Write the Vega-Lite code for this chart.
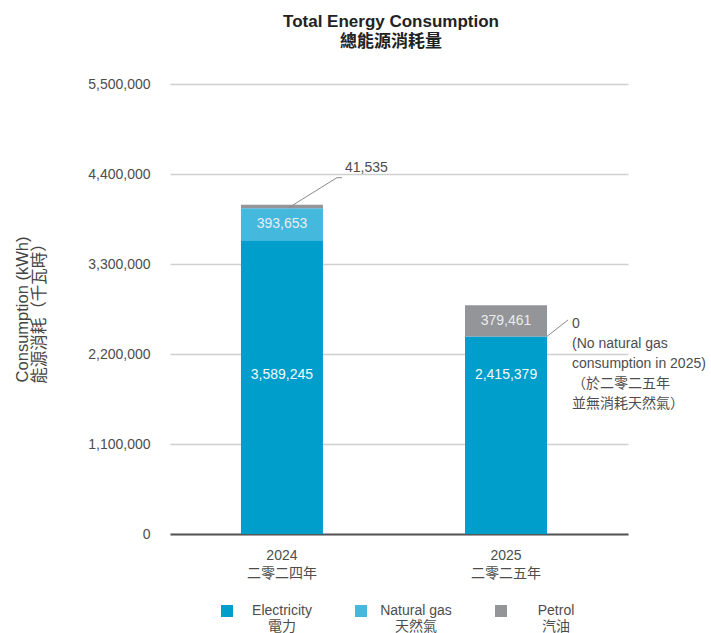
{
  "$schema": "https://vega.github.io/schema/vega-lite/v6.json",
  "width": 458,
  "height": 450,
  "autosize": {"type": "none"},
  "padding": {"left": 170, "top": 84, "right": 83, "bottom": 99},
  "background": "white",
  "config": {
    "font": "'Liberation Sans', 'Noto Sans CJK TC'",
    "view": {"stroke": null},
    "style": {"guide-label": {"lineHeight": 16}}
  },
  "title": {
    "text": ["Total Energy Consumption", "總能源消耗量"],
    "fontSize": 17,
    "lineHeight": 20,
    "fontWeight": "bold",
    "color": "#222222",
    "anchor": "middle",
    "dx": -8,
    "offset": 26
  },
  "datasets": {
    "energy": [
      {"year": "2024", "series": "Electricity", "value": 3589245},
      {"year": "2024", "series": "Natural gas", "value": 393653},
      {"year": "2024", "series": "Petrol", "value": 41535},
      {"year": "2025", "series": "Electricity", "value": 2415379},
      {"year": "2025", "series": "Natural gas", "value": 0},
      {"year": "2025", "series": "Petrol", "value": 379461}
    ]
  },
  "layer": [
    {
      "data": {"name": "energy"},
      "transform": [
        {"stack": "value", "groupby": ["year"], "sort": [{"field": "series", "order": "ascending"}], "as": ["v0", "v1"]}
      ],
      "mark": {"type": "bar"},
      "encoding": {
        "x": {
          "field": "year",
          "type": "nominal",
          "scale": {"paddingInner": 0.634, "paddingOuter": 0.339, "align": 0.467},
          "axis": {
            "title": null,
            "labelAngle": 0,
            "ticks": false,
            "grid": false,
            "domainColor": "#555555",
            "domainWidth": 2,
            "labelPadding": 14,
            "labelFontSize": 14,
            "labelColor": "#4d4d4d",
            "labelLineHeight": 18,
            "labelExpr": "datum.label == '2024' ? ['2024', '二零二四年'] : ['2025', '二零二五年']"
          }
        },
        "y": {
          "field": "v0",
          "type": "quantitative",
          "scale": {"domain": [0, 5500000], "nice": false},
          "axis": {
            "values": [0, 1100000, 2200000, 3300000, 4400000, 5500000],
            "labelExpr": "format(datum.value, ',')",
            "title": ["Consumption (kWh)", "能源消耗（千瓦時）"],
            "domain": false,
            "ticks": false,
            "labelPadding": 20,
            "labelFontSize": 14,
            "labelColor": "#4d4d4d",
            "gridColor": "#d0d0d0",
            "gridWidth": 1.5,
            "titleFontSize": 16.5,
            "titleFontWeight": "normal",
            "titleColor": "#444444",
            "titlePadding": 40,
            "titleLineHeight": 17
          }
        },
        "y2": {"field": "v1"},
        "color": {
          "field": "series",
          "type": "nominal",
          "scale": {"domain": ["Electricity", "Natural gas", "Petrol"], "range": ["#009ECB", "#45B8DE", "#939598"]},
          "legend": {
            "title": null,
            "orient": "none",
            "legendX": 50,
            "legendY": 520,
            "direction": "horizontal",
            "symbolType": "square",
            "symbolSize": 144,
            "symbolStrokeWidth": 0,
            "labelFontSize": 14,
            "labelColor": "#4d4d4d",
            "labelAlign": "center",
            "labelOffset": 48,
            "columnPadding": 42,
            "labelLimit": 200,
            "labelExpr": "datum.label == 'Electricity' ? ['Electricity', '電力'] : datum.label == 'Natural gas' ? ['Natural gas', '天然氣'] : ['Petrol', '汽油']"
          }
        }
      }
    },
    {
      "data": {"name": "energy"},
      "transform": [{"filter": "datum.series == 'Electricity'"}],
      "mark": {"type": "text", "color": "#f4fbfd", "fontSize": 14, "baseline": "middle"},
      "encoding": {
        "x": {"field": "year", "type": "nominal"},
        "y": {"datum": 1943000, "type": "quantitative"},
        "text": {"field": "value", "type": "quantitative", "format": ","}
      }
    },
    {
      "data": {"name": "energy"},
      "transform": [
        {"stack": "value", "groupby": ["year"], "sort": [{"field": "series", "order": "ascending"}], "as": ["v0", "v1"]},
        {"calculate": "(datum.v0 + datum.v1) / 2", "as": "mid"},
        {"filter": "datum.series != 'Electricity' && datum.value > 100000"}
      ],
      "mark": {"type": "text", "color": "#ececec", "fontSize": 14, "baseline": "middle"},
      "encoding": {
        "x": {"field": "year", "type": "nominal"},
        "y": {"field": "mid", "type": "quantitative"},
        "text": {"field": "value", "type": "quantitative", "format": ","}
      }
    },
    {
      "data": {"name": "energy"},
      "transform": [{"filter": "datum.series == 'Petrol' && datum.year == '2024'"}],
      "mark": {"type": "rule", "color": "#8a8a8a", "strokeWidth": 1, "xOffset": 7, "x2Offset": 55},
      "encoding": {
        "x": {"field": "year", "type": "nominal"},
        "x2": {"field": "year"},
        "y": {"datum": 3990000, "type": "quantitative"},
        "y2": {"datum": 4355000}
      }
    },
    {
      "data": {"name": "energy"},
      "transform": [{"filter": "datum.series == 'Petrol' && datum.year == '2024'"}],
      "mark": {"type": "rule", "color": "#8a8a8a", "strokeWidth": 1, "xOffset": 55, "x2Offset": 60},
      "encoding": {
        "x": {"field": "year", "type": "nominal"},
        "x2": {"field": "year"},
        "y": {"datum": 4355000, "type": "quantitative"},
        "y2": {"datum": 4355000}
      }
    },
    {
      "data": {"name": "energy"},
      "transform": [{"filter": "datum.series == 'Petrol' && datum.year == '2024'"}],
      "mark": {"type": "text", "color": "#4d4d4d", "fontSize": 14, "align": "left", "baseline": "middle", "xOffset": 63},
      "encoding": {
        "x": {"field": "year", "type": "nominal"},
        "y": {"datum": 4473000, "type": "quantitative"},
        "text": {"field": "value", "type": "quantitative", "format": ","}
      }
    },
    {
      "data": {"name": "energy"},
      "transform": [{"filter": "datum.series == 'Natural gas' && datum.year == '2025'"}],
      "mark": {"type": "rule", "color": "#8a8a8a", "strokeWidth": 1, "xOffset": 41, "x2Offset": 62},
      "encoding": {
        "x": {"field": "year", "type": "nominal"},
        "x2": {"field": "year"},
        "y": {"datum": 2415379, "type": "quantitative"},
        "y2": {"datum": 2616000}
      }
    },
    {
      "data": {"name": "energy"},
      "transform": [{"filter": "datum.series == 'Natural gas' && datum.year == '2025'"}],
      "mark": {
        "type": "text",
        "color": "#4d4d4d",
        "fontSize": 14,
        "align": "left",
        "baseline": "top",
        "lineHeight": 20,
        "xOffset": 66,
        "text": ["0", "(No natural gas", "consumption in 2025)", "（於二零二五年", "並無消耗天然氣）"]
      },
      "encoding": {
        "x": {"field": "year", "type": "nominal"},
        "y": {"datum": 2648600, "type": "quantitative"}
      }
    }
  ]
}
